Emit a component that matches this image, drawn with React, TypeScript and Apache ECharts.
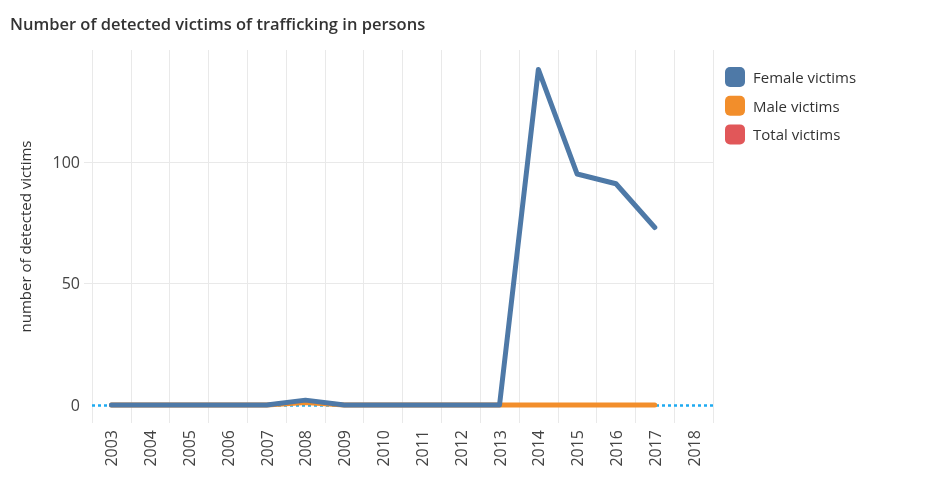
import React, { useEffect, useRef } from "react";
import * as echarts from "echarts";

const years = ["2003","2004","2005","2006","2007","2008","2009","2010","2011","2012","2013","2014","2015","2016","2017","2018"];
const femaleVictims = [0, 0, 0, 0, 0, 2, 0, 0, 0, 0, 0, 138, 95, 91, 73, null];
const maleVictims = [0, 0, 0, 0, 0, 1, 0, 0, 0, 0, 0, 0, 0, 0, 0, null];
const totalVictims: (number | null)[] = [null, null, null, null, null, null, null, null, null, null, null, null, null, null, null, null];
const yTicks = [0, 50, 100];
const gridValues = [50, 100];

const FONT = "'Open Sans', 'Noto Sans', sans-serif";

export default function App() {
  const ref = useRef<HTMLDivElement>(null);
  useEffect(() => {
    if (!ref.current) return;
    const chart = echarts.init(ref.current, null, { renderer: "svg" });
    chart.setOption({
      animation: false,
      title: {
        text: "Number of detected victims of trafficking in persons",
        left: 5,
        top: 10,
        textStyle: { fontFamily: FONT, fontSize: 16.5, fontWeight: 600, color: "#333" },
      },
      legend: {
        orient: "vertical",
        left: 720,
        top: 62,
        itemWidth: 20,
        itemHeight: 20,
        itemGap: 8.7,
        icon: "roundRect",
        textStyle: { fontFamily: FONT, fontSize: 15, color: "#333", padding: [0, 0, 0, 3] },
        data: ["Female victims", "Male victims", "Total victims"],
      },
      grid: { left: 92, right: 220, top: 50, bottom: 61, containLabel: false },
      xAxis: {
        type: "category",
        data: years,
        boundaryGap: true,
        axisLine: { show: false },
        axisTick: { show: false },
        axisLabel: { rotate: 90, margin: 7, fontFamily: FONT, fontSize: 16, color: "#444", interval: 0 },
        splitLine: { show: true, interval: 0, lineStyle: { color: "#e9e9e9", width: 1 } },
      },
      yAxis: {
        type: "value",
        min: -7.4,
        max: 146,
        name: "number of detected victims",
        nameLocation: "middle",
        nameGap: 60,
        nameTextStyle: { fontFamily: FONT, fontSize: 15, color: "#333" },
        axisLine: { show: false },
        axisTick: { show: true, customValues: gridValues, length: 8, lineStyle: { color: "#e9e9e9" } },
        axisLabel: { customValues: yTicks, margin: 12, fontFamily: FONT, fontSize: 16, color: "#444" },
        splitLine: { show: true, lineStyle: { color: "#e9e9e9", width: 1 } },
      },
      series: [
        {
          name: "Total victims",
          type: "line",
          data: totalVictims,
          color: "#e15759",
          showSymbol: false,
          z: 1,
          lineStyle: { width: 4 },
          markLine: {
            silent: true,
            z: 1,
            symbol: "none",
            label: { show: false },
            lineStyle: { type: [3, 3], color: "#1eaaf1", width: 2.5 },
            data: [{ yAxis: 0 }],
          },
        },
        {
          name: "Male victims",
          type: "line",
          data: maleVictims,
          color: "#f28e2b",
          showSymbol: false,
          z: 3,
          lineStyle: { width: 5, cap: "round", join: "round" },
        },
        {
          name: "Female victims",
          type: "line",
          data: femaleVictims,
          color: "#4e79a7",
          showSymbol: false,
          z: 4,
          lineStyle: { width: 5, cap: "round", join: "round" },
        },
      ],
    });
    return () => chart.dispose();
  }, []);
  return <div ref={ref} style={{ position: "fixed", left: 0, top: 0, width: 933, height: 484 }} />;
}
